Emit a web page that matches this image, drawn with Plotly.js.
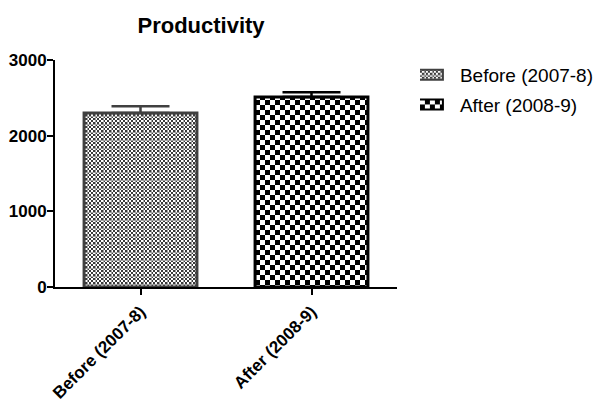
<!DOCTYPE html>
<html>
<head>
<meta charset="utf-8">
<script src="https://cdn.plot.ly/plotly-3.0.1.min.js"></script>
<style>html,body{margin:0;padding:0;background:#fff;}#chart{width:600px;height:405px;}</style>
</head>
<body>
<div id="chart"></div>
<script>
const categories = ['Before (2007-8)', 'After (2008-9)'];
const means = [2300, 2510];
const errUpper = [90, 65];
const yTicks = [0, 1000, 2000, 3000];

const borderColors = ['#404040', '#000000'];
const patternIds = ['chkFine', 'chkCoarse'];

const traces = categories.map((c, i) => ({
  type: 'bar',
  name: c,
  x: [c],
  y: [means[i]],
  width: 0.66,
  legendgroup: 'g' + i,
  marker: { color: i === 0 ? '#8a8a8a' : '#7a7a7a', line: { color: borderColors[i], width: 3 } },
  error_y: {
    type: 'data', symmetric: false, array: [errUpper[i]], arrayminus: [0],
    color: borderColors[i], thickness: 2.5, width: 29
  },
  hoverinfo: 'none'
}));

const layout = {
  width: 600, height: 405,
  margin: { l: 55, r: 203, t: 60, b: 118, autoexpand: false },
  paper_bgcolor: '#fff', plot_bgcolor: '#fff',
  font: { family: 'Liberation Sans, Arial, sans-serif', color: '#000' },
  barmode: 'overlay',
  showlegend: true,
  title: {
    text: 'Productivity', font: { size: 22, weight: 'bold', color: '#000' },
    xref: 'paper', x: 0.427, xanchor: 'center', yref: 'container', y: 0.938, yanchor: 'middle'
  },
  xaxis: {
    type: 'category', categoryorder: 'array', categoryarray: categories,
    range: [-0.5, 1.5], automargin: false,
    showline: true, linecolor: '#000', linewidth: 2,
    ticks: 'outside', ticklen: 6, tickwidth: 2, tickcolor: '#000',
    tickangle: -45, tickfont: { size: 17, weight: 'bold', color: '#000' },
    showgrid: false, zeroline: false, fixedrange: true
  },
  yaxis: {
    range: [0, 3000], tickvals: yTicks, automargin: false,
    showline: true, linecolor: '#000', linewidth: 2,
    ticks: 'outside', ticklen: 6, tickwidth: 2, tickcolor: '#000',
    ticklabelstandoff: -3,
    tickfont: { size: 17, weight: 'bold', color: '#000' },
    showgrid: false, zeroline: false, fixedrange: true
  },
  legend: {
    x: 1.067, xanchor: 'left', y: 1.018, yanchor: 'top',
    font: { size: 19, color: '#000' },
    traceorder: 'grouped', tracegroupgap: 2,
    bgcolor: 'rgba(0,0,0,0)'
  }
};

function addPatterns(svg) {
  const NS = 'http://www.w3.org/2000/svg';
  let defs = svg.querySelector('defs');
  if (!defs) { defs = document.createElementNS(NS, 'defs'); svg.insertBefore(defs, svg.firstChild); }
  function mk(id, size, build) {
    const p = document.createElementNS(NS, 'pattern');
    p.setAttribute('id', id);
    p.setAttribute('patternUnits', 'userSpaceOnUse');
    p.setAttribute('width', size); p.setAttribute('height', size);
    build(p);
    defs.appendChild(p);
  }
  function rect(p, x, y, w, h, fill) {
    const r = document.createElementNS(NS, 'rect');
    r.setAttribute('x', x); r.setAttribute('y', y);
    r.setAttribute('width', w); r.setAttribute('height', h);
    r.setAttribute('fill', fill);
    p.appendChild(r);
  }
  mk(patternIds[0], 8, p => {
    rect(p, 0, 0, 8, 8, '#ffffff');
    for (let i = 0; i < 4; i++) for (let j = 0; j < 4; j++)
      if ((i + j) % 2 === 0) rect(p, i * 2, j * 2, 2, 2, '#3a3a3a');
    rect(p, 0, 0, 8, 1, '#a0a0a0');
    rect(p, 0, 0, 1, 8, '#a0a0a0');
  });
  mk(patternIds[1], 10, p => {
    rect(p, 0, 0, 10, 10, '#ffffff');
    rect(p, 0, 0, 5, 5, '#000000');
    rect(p, 5, 5, 5, 5, '#000000');
  });
}

Plotly.newPlot('chart', traces, layout, { displayModeBar: false, staticPlot: true }).then(gd => {
  const svg = gd.querySelector('.main-svg');
  addPatterns(svg);
  gd.querySelectorAll('.barlayer .trace').forEach((t, i) => {
    t.querySelectorAll('.point path').forEach(p => { p.style.fill = 'url(#' + patternIds[i] + ')'; });
  });
  gd.querySelectorAll('.legend .traces').forEach((t, i) => {
    t.querySelectorAll('.legendpoints path').forEach(p => {
      p.setAttribute('d', 'M3,5H-22V-5H3Z');
      p.style.fill = 'url(#' + patternIds[i] + ')';
      p.style.stroke = borderColors[i];
      p.style.strokeWidth = '2px';
    });
  });
});
</script>
</body>
</html>
